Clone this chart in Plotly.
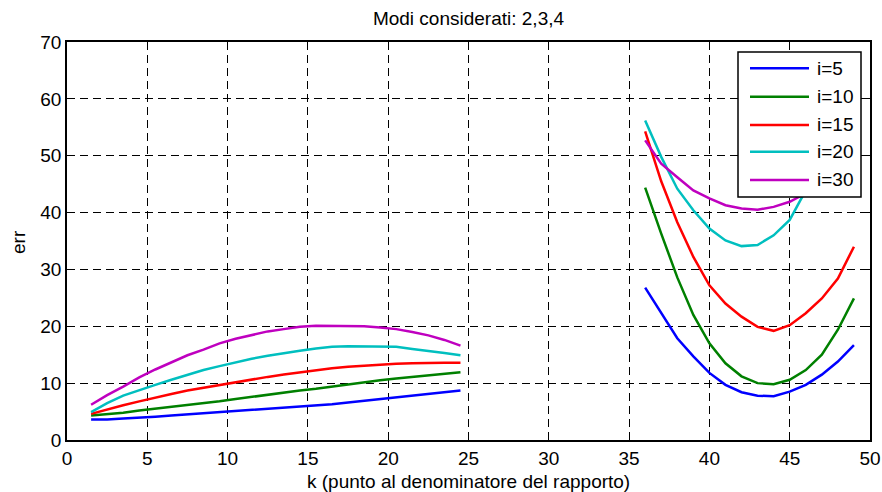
import plotly.graph_objects as go

# k values of the two sampled ranges
k_left = [1.5, 2.5, 3.5, 4.5, 5.5, 6.5, 7.5, 8.5, 9.5, 10.5, 11.5, 12.5,
          13.5, 14.5, 15.5, 16.5, 17.5, 18.5, 19.5, 20.5, 21.5, 22.5, 23.5, 24.5]
k_right = [36, 37, 38, 39, 40, 41, 42, 43, 44, 45, 46, 47, 48, 49]

# err for each i, left range
err_i5_left = [3.6, 3.6, 3.8, 3.9, 4.1, 4.3, 4.5, 4.6, 4.8, 5.0, 5.2, 5.4,
               5.6, 5.8, 6.0, 6.3, 6.6, 6.9, 7.2, 7.5, 7.8, 8.1, 8.4, 8.7]
err_i10_left = [4.3, 4.5, 4.8, 5.2, 5.5, 5.8, 6.2, 6.5, 6.8, 7.2, 7.6, 8.0,
                8.3, 8.7, 9.0, 9.4, 9.8, 10.1, 10.5, 10.8, 11.1, 11.4, 11.7, 11.9]
err_i15_left = [4.6, 5.4, 6.1, 6.8, 7.5, 8.1, 8.7, 9.2, 9.7, 10.2, 10.7, 11.1,
                11.5, 11.9, 12.3, 12.6, 12.9, 13.1, 13.3, 13.4, 13.5, 13.6, 13.6, 13.6]
err_i20_left = [4.9, 6.5, 7.8, 8.8, 9.7, 10.6, 11.5, 12.3, 13.0, 13.7, 14.3, 14.8,
                15.3, 15.7, 16.1, 16.4, 16.5, 16.5, 16.5, 16.4, 16.0, 15.7, 15.3, 14.9]
err_i30_left = [6.2, 7.9, 9.4, 11.0, 12.4, 13.7, 14.9, 15.9, 17.0, 17.8, 18.5, 19.1,
                19.5, 19.9, 20.1, 20.1, 20.1, 20.0, 19.8, 19.5, 19.0, 18.4, 17.6, 16.6]

# err for each i, right range
err_i5_right = [26.8, 22.3, 17.9, 14.7, 11.8, 9.7, 8.4, 7.8, 7.7, 8.5, 9.7, 11.5, 13.8, 16.7]
err_i10_right = [44.4, 36.3, 28.6, 22.0, 17.0, 13.5, 11.2, 10.0, 9.8, 10.6, 12.3, 15.0, 19.4, 24.9]
err_i15_right = [54.3, 45.5, 38.3, 32.2, 27.2, 24.0, 21.7, 19.9, 19.2, 20.2, 22.3, 24.9, 28.4, 34.0]
err_i20_right = [56.2, 49.8, 44.2, 40.4, 37.2, 35.1, 34.1, 34.3, 36.0, 38.7, 43.9, 49.5, 55.5, 62.0]
err_i30_right = [52.7, 48.6, 46.2, 43.9, 42.5, 41.3, 40.7, 40.5, 41.0, 41.9, 43.4, 45.5, 48.2, 51.5]

series_names = ["i=5", "i=10", "i=15", "i=20", "i=30"]
series_colors = ["#0000FF", "#008000", "#FF0000", "#00BFBF", "#BF00BF"]
left_values = [err_i5_left, err_i10_left, err_i15_left, err_i20_left, err_i30_left]
right_values = [err_i5_right, err_i10_right, err_i15_right, err_i20_right, err_i30_right]

x_ticks = [0, 5, 10, 15, 20, 25, 30, 35, 40, 45, 50]
y_ticks = [0, 10, 20, 30, 40, 50, 60, 70]

FONT = "Liberation Sans, Arial, sans-serif"
W, H = 882, 492
ML, MR, MT, MB = 67, 12, 42, 52
PW, PH = W - ML - MR, H - MT - MB


def px_x(p):
    return (p - ML) / PW


def px_y(p):
    return (H - MB - p) / PH


fig = go.Figure()
for name, color, yl, yr in zip(series_names, series_colors, left_values, right_values):
    fig.add_trace(go.Scatter(
        x=k_left + [None] + k_right,
        y=yl + [None] + yr,
        mode="lines",
        name=name,
        line=dict(color=color, width=2.5),
        showlegend=False,
    ))

axis_common = dict(
    showline=True, linecolor="black", linewidth=1.5, mirror="ticks",
    ticks="inside", ticklen=7, tickwidth=1, tickcolor="black",
    showgrid=True, gridcolor="black", gridwidth=1, griddash="8px,5px",
    zeroline=False, tickfont=dict(family=FONT, size=19, color="black"),
)
fig.update_xaxes(range=[0, 50], tickvals=x_ticks, ticktext=[str(v) for v in x_ticks], **axis_common)
fig.update_yaxes(range=[0, 70], tickvals=y_ticks, ticktext=[str(v) for v in y_ticks], **axis_common)

# legend box drawn over the curves
shapes = [dict(type="rect", xref="paper", yref="paper", layer="above",
               x0=px_x(738), x1=px_x(861), y0=px_y(197), y1=px_y(52),
               fillcolor="white", line=dict(color="black", width=1.5))]
annotations = []
entry_y = [68.3, 96.7, 125, 151.7, 180]
for name, color, ey in zip(series_names, series_colors, entry_y):
    shapes.append(dict(type="line", xref="paper", yref="paper", layer="above",
                       x0=px_x(750), x1=px_x(809), y0=px_y(ey), y1=px_y(ey),
                       line=dict(color=color, width=2.5)))
    annotations.append(dict(text=name, xref="paper", yref="paper", showarrow=False,
                            x=px_x(815), y=px_y(ey), xanchor="left", yanchor="middle",
                            font=dict(family=FONT, size=19, color="black")))

# axis titles
annotations.append(dict(text="k (punto al denominatore del rapporto)", xref="paper", yref="paper",
                        showarrow=False, x=0.5, y=px_y(482), xanchor="center", yanchor="middle",
                        font=dict(family=FONT, size=19, color="black")))
annotations.append(dict(text="err", xref="paper", yref="paper", showarrow=False, textangle=-90,
                        x=px_x(19), y=px_y(242), xanchor="center", yanchor="middle",
                        font=dict(family=FONT, size=19, color="black")))

fig.update_layout(
    width=W, height=H,
    margin=dict(l=ML, r=MR, t=MT, b=MB, pad=0, autoexpand=False),
    paper_bgcolor="white", plot_bgcolor="white",
    title=dict(text="Modi considerati: 2,3,4", x=0.5, xref="paper", xanchor="center",
               y=1 - 18.5 / H, yref="container", yanchor="middle",
               font=dict(family=FONT, size=19, color="black")),
    shapes=shapes, annotations=annotations, showlegend=False,
)

fig.write_html("out.html")
